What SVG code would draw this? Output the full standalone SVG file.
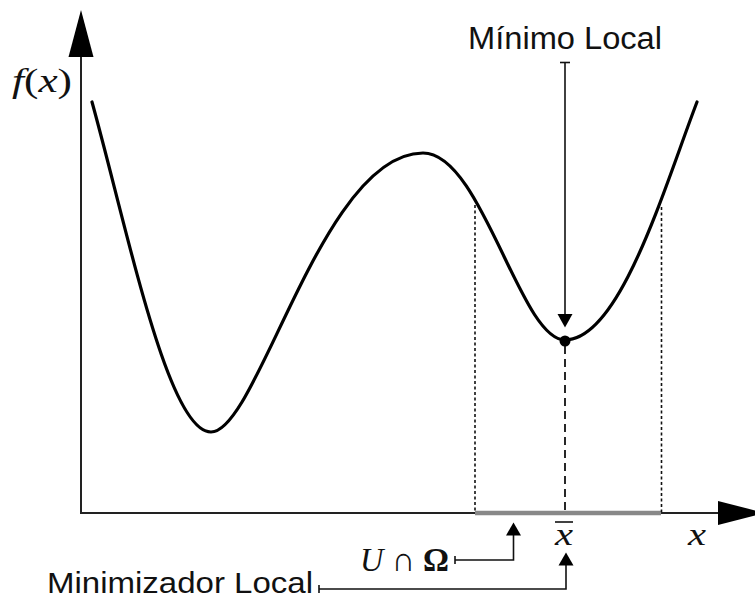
<svg xmlns="http://www.w3.org/2000/svg" width="755" height="601" viewBox="0 0 755 601">
<style>
.ax{stroke:#222;stroke-width:2;fill:none}
.ln{stroke:#111;stroke-width:1.6;fill:none}
.curve{stroke:#000;stroke-width:3.2;fill:none;stroke-linecap:round}
.dot{stroke:#111;stroke-width:1.6;stroke-dasharray:3 2.5;fill:none}
.dash{stroke:#111;stroke-width:1.8;stroke-dasharray:8 5;fill:none}
.head{fill:#000}
.lbl{font-family:"Liberation Sans","Open Sans",sans-serif;fill:#111}
.math{font-family:"Liberation Serif","DejaVu Serif",serif;fill:#111}
.it{font-style:italic}
</style>
<rect width="755" height="601" fill="#fff"/>
<g id="axes">
<line class="ax" x1="81" y1="50" x2="81" y2="514"/>
<line class="ax" x1="80" y1="513" x2="725" y2="513"/>
<polygon class="head" points="81,10 68.5,57 93.5,57"/>
<polygon class="head" points="765,513 718,501 718,525"/>
</g>
<g id="interval">
<line x1="475" y1="513" x2="661" y2="513" stroke="#888" stroke-width="4.5"/>
<line class="dot" x1="475" y1="205" x2="475" y2="512"/>
<line class="dot" x1="661.5" y1="207" x2="661.5" y2="512"/>
<line class="dash" x1="565" y1="346" x2="565" y2="512"/>
</g>
<g id="curve">
<path class="curve" d="M92,102 C128,232 168,432 211,432 C258,432 322,153 423,153 C482,153 520,340 565,340 C620,340 664,188 697,102"/>
<circle cx="565" cy="341" r="5.5" fill="#000"/>
</g>
<g id="connectors">
<line class="ln" x1="560" y1="62.5" x2="570" y2="62.5"/>
<line class="ln" x1="565" y1="62.5" x2="565" y2="316"/>
<polygon class="head" points="565,327.5 557.5,314 572.5,314"/>
<line class="ln" x1="455" y1="556" x2="455" y2="564"/>
<polyline class="ln" points="455,560 513.5,560 513.5,534"/>
<polygon class="head" points="513.5,522.5 506,535.5 521,535.5"/>
<line class="ln" x1="319" y1="585" x2="319" y2="593"/>
<polyline class="ln" points="319,589 566,589 566,563"/>
<polygon class="head" points="566,552.5 558.5,565.5 573.5,565.5"/>
</g>
<g id="labels">
<text class="lbl" x="468" y="49" font-size="31" textLength="194" lengthAdjust="spacingAndGlyphs">Mínimo Local</text>
<text class="lbl" x="47" y="593" font-size="30" textLength="266" lengthAdjust="spacingAndGlyphs">Minimizador Local</text>
<text class="math" x="12" y="92" font-size="34" textLength="60" lengthAdjust="spacingAndGlyphs"><tspan class="it">f</tspan>(<tspan class="it">x</tspan>)</text>
<text class="math it" x="555" y="545" font-size="32" textLength="18" lengthAdjust="spacingAndGlyphs">x</text>
<line x1="555" y1="522" x2="573" y2="522" stroke="#111" stroke-width="1.6"/>
<text class="math it" x="688" y="545" font-size="32" textLength="18" lengthAdjust="spacingAndGlyphs">x</text>
<text class="math" x="360" y="571" font-size="34" textLength="89" lengthAdjust="spacingAndGlyphs"><tspan class="it">U</tspan> ∩ <tspan font-weight="bold">Ω</tspan></text>
</g>
</svg>
